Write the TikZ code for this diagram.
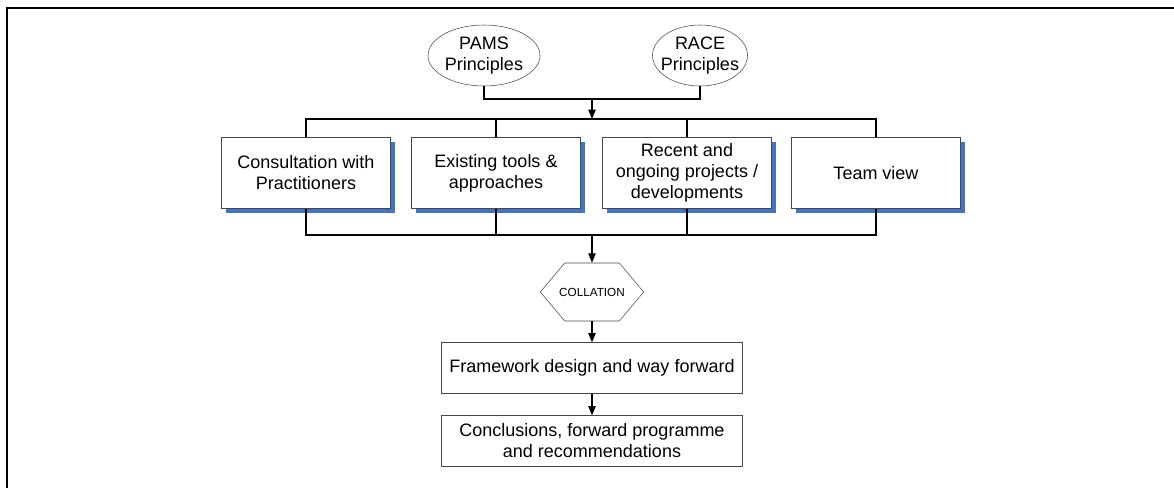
\documentclass[tikz,border=0pt]{standalone}
\usepackage{fontspec}
\setmainfont{Liberation Sans}
\usetikzlibrary{shapes.geometric,shapes.symbols,shadows,arrows.meta}
\definecolor{shadowblue}{RGB}{68,114,196}
\definecolor{boxline}{RGB}{70,70,70}

\begin{document}
\begin{tikzpicture}[x=0.75pt,y=-0.75pt,
  every node/.style={font=\fontsize{13.5}{15.8}\selectfont, align=center},
  src/.style={draw=boxline, ellipse, minimum height=45.75pt, inner sep=0pt},
  input/.style={draw=boxline, fill=white, minimum width=126.75pt, minimum height=53.25pt,
    drop shadow={shadow xshift=3.5pt, shadow yshift=-3.5pt, fill=shadowblue, opacity=1}},
  stage/.style={draw=boxline, minimum width=225.75pt, minimum height=38pt},
  link/.style={line width=1.1pt},
  arr/.style={link, -{Triangle[length=7pt,width=5.5pt]}}]
  \useasboundingbox (0,0) rectangle (1174,488);
  \draw[line width=1.5pt] (7,490) -- (7,8) -- (1176,8);

  \node[src, minimum width=84pt, label={center:PAMS\\Principles}] (pams) at (484,55.5) {};
  \node[src, minimum width=71.25pt, label={center:RACE\\Principles}] (race) at (700,55.5) {};

  \node[input] (consult) at (306,173) {Consultation with\\Practitioners};
  \node[input] (tools) at (496,173) {Existing tools \&\\approaches};
  \node[input] (projects) at (687,173) {Recent and\\ongoing projects /\\developments};
  \node[input] (team) at (876,173) {Team view};

  \node[draw=boxline, signal, signal to=east and west, signal pointer angle=100,
    minimum width=77.25pt, minimum height=43.5pt, inner sep=0pt,
    font=\fontsize{8.8}{10}\selectfont] (collation) at (592,292) {\makebox[41pt]{COLLATION}};
  \node[stage] (design) at (592,368) {Framework design and way forward};
  \node[stage] (concl) at (592,441) {Conclusions, forward programme\\and recommendations};

  \coordinate (join) at (592,99);
  \coordinate (split) at (592,119);
  \coordinate (merge) at (592,235);

  \draw[link] (pams.south) |- (join) -| (race.south);
  \draw[arr] (join) -- (split);
  \draw[link] (consult.north) |- (split) -| (team.north);
  \draw[link] (tools.north) -- (tools.north |- split);
  \draw[link] (projects.north) -- (projects.north |- split);
  \draw[link] (consult.south) |- (merge) -| (team.south);
  \draw[link] (tools.south) -- (tools.south |- merge);
  \draw[link] (projects.south) -- (projects.south |- merge);
  \draw[arr] (merge) -- (collation.north);
  \draw[arr] (collation.south) -- (design.north);
  \draw[arr] (design.south) -- (concl.north);
\end{tikzpicture}
\end{document}
